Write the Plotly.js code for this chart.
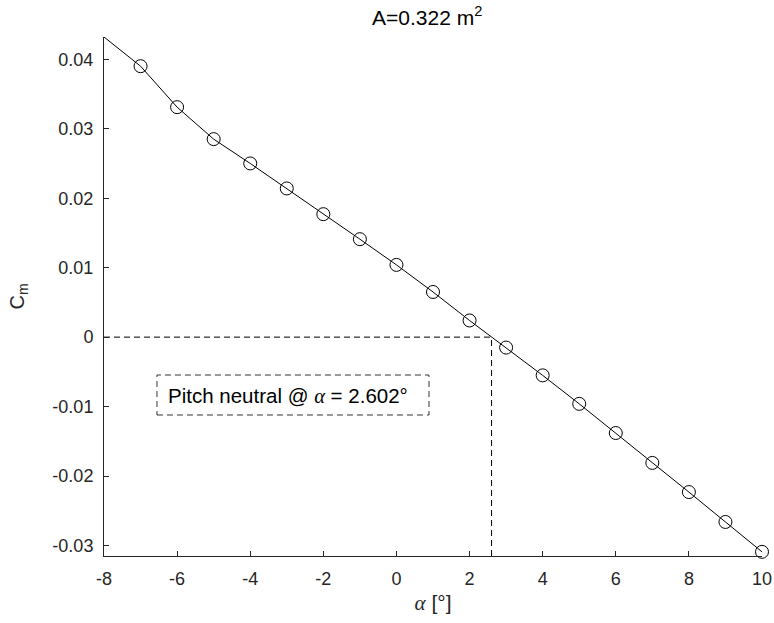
<!DOCTYPE html>
<html>
<head>
<meta charset="utf-8">
<script src="https://cdn.plot.ly/plotly-3.0.1.min.js"></script>
<style>html,body{margin:0;padding:0;background:#fff;}#chart{width:774px;height:623px;}</style>
</head>
<body>
<div id="chart"></div>
<script>
// Data
const alphaLine = [-8, -7, -6, -5, -4, -3, -2, -1, 0, 1, 2, 3, 4, 5, 6, 7, 8, 9, 10];
const cmLine = [0.0432, 0.0390, 0.0331, 0.0285, 0.0250, 0.0214, 0.0177, 0.0141, 0.0104, 0.0065, 0.0024, -0.0015, -0.0055, -0.0096, -0.0138, -0.0181, -0.0223, -0.0266, -0.0309];
const alphaMarkers = [-7, -6, -5, -4, -3, -2, -1, 0, 1, 2, 3, 4, 5, 6, 7, 8, 9, 10];
const cmMarkers = [0.0390, 0.0331, 0.0285, 0.0250, 0.0214, 0.0177, 0.0141, 0.0104, 0.0065, 0.0024, -0.0015, -0.0055, -0.0096, -0.0138, -0.0181, -0.0223, -0.0266, -0.0309];
const alphaNeutral = 2.602;
const xTicks = [-8, -6, -4, -2, 0, 2, 4, 6, 8, 10];
const xTickText = ['-8', '-6', '-4', '-2', '0', '2', '4', '6', '8', '10'];
const yTicks = [-0.03, -0.02, -0.01, 0, 0.01, 0.02, 0.03, 0.04];
const yTickText = ['-0.03', '-0.02', '-0.01', '0', '0.01', '0.02', '0.03', '0.04'];
const xRange = [-8, 10];
const yRange = [-0.0315, 0.0432];

const ink = '#262626';
const font = 'Liberation Sans, Arial, sans-serif';
const greek = "<i style=\"font-family:'Liberation Serif','DejaVu Serif',serif\">α</i>";

const traces = [
  {x: alphaLine, y: cmLine, mode: 'lines', line: {color: '#000', width: 1}, hoverinfo: 'skip', showlegend: false},
  {x: alphaMarkers, y: cmMarkers, mode: 'markers', cliponaxis: false, marker: {symbol: 'circle-open', size: 13, color: '#000', line: {width: 1, color: '#000'}}, showlegend: false},
  {x: [xRange[0], alphaNeutral], y: [0, 0], mode: 'lines', line: {color: '#000', width: 1, dash: '6px,4px'}, showlegend: false},
  {x: [alphaNeutral, alphaNeutral], y: [yRange[0], 0], mode: 'lines', line: {color: '#000', width: 1, dash: '6px,4px'}, showlegend: false}
];

const layout = {
  width: 774, height: 623,
  margin: {l: 104, r: 12, t: 37, b: 67},
  paper_bgcolor: '#fff', plot_bgcolor: '#fff',
  font: {family: font, color: ink, size: 18},
  title: {text: 'A=0.322 m<sup>2</sup>', font: {family: font, size: 21, color: '#000'}, x: 0.552, xanchor: 'center', y: 0.972, yanchor: 'middle'},
  xaxis: {
    range: xRange, showgrid: false, zeroline: false, showline: true, linecolor: ink, linewidth: 1,
    ticks: 'inside', ticklen: 5, tickcolor: ink, tickvals: xTicks, ticktext: xTickText,
    tickfont: {size: 18, color: ink, family: font}, ticklabelstandoff: 6,
    title: {text: greek + ' [°]', font: {size: 21, color: ink, family: font}, standoff: 7}
  },
  yaxis: {
    range: yRange, showgrid: false, zeroline: false, showline: true, linecolor: ink, linewidth: 1,
    ticks: 'inside', ticklen: 5, tickcolor: ink, tickvals: yTicks, ticktext: yTickText,
    tickfont: {size: 18, color: ink, family: font}, ticklabelstandoff: 6,
    title: {text: 'C<sub>m</sub>', font: {size: 20, color: ink, family: font}, standoff: 22}
  },
  shapes: [
    {type: 'rect', xref: 'paper', yref: 'paper', x0: 0.0805, x1: 0.4939, y0: 0.2717, y1: 0.3487,
     line: {color: '#333', width: 1, dash: '6px,4px'}, fillcolor: 'rgba(0,0,0,0)'}
  ],
  annotations: [
    {xref: 'paper', yref: 'paper', x: 0.2796, y: 0.3102, xanchor: 'center', yanchor: 'middle', showarrow: false,
     text: 'Pitch neutral @ ' + greek + ' = ' + alphaNeutral.toFixed(3) + '°', font: {size: 20.5, color: '#000', family: font}}
  ]
};

Plotly.newPlot('chart', traces, layout, {staticPlot: true, displayModeBar: false});
</script>
</body>
</html>
